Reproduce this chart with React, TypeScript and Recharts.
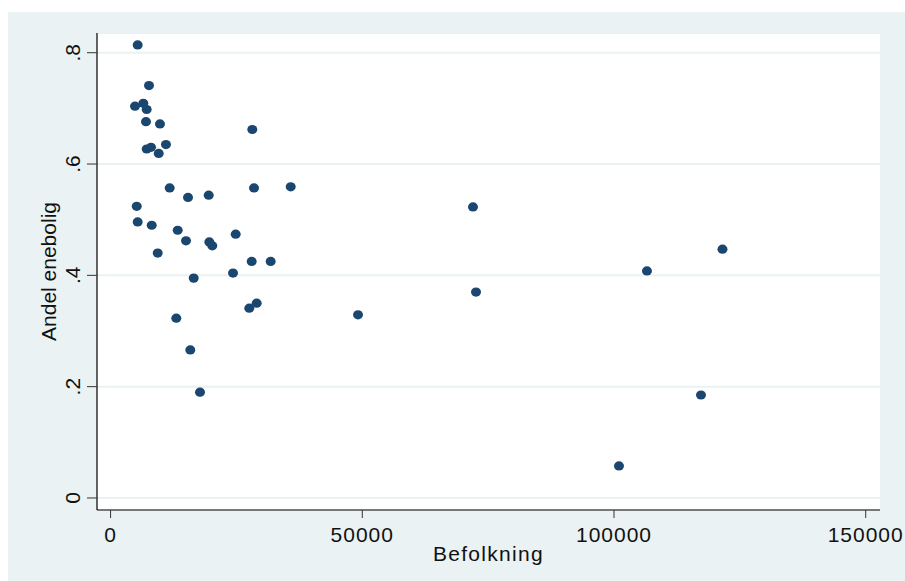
import React from 'react'
import {
  ScatterChart,
  Scatter,
  XAxis,
  YAxis,
  CartesianGrid,
} from 'recharts'

// Befolkning (x) and andel enebolig (y), one entry per kommune
const befolkning = [
  5380, 7630, 4850, 6500, 7170, 7030, 9810, 11000, 7170, 8030, 9560, 28150,
  11740, 15380, 19490, 28490, 35780, 5190, 5380, 8170, 13330, 14980, 9360,
  19610, 20200, 24850, 16510, 24320, 28030, 31800, 27550, 29020, 13050, 15830,
  17760, 49150, 71990, 72590, 100990, 106550, 117280, 121550,
]
const andelEnebolig = [
  0.814, 0.741, 0.704, 0.709, 0.698, 0.676, 0.672, 0.635, 0.627, 0.63, 0.619,
  0.662, 0.557, 0.54, 0.544, 0.557, 0.559, 0.524, 0.496, 0.49, 0.481, 0.462,
  0.44, 0.46, 0.453, 0.474, 0.395, 0.404, 0.425, 0.425, 0.341, 0.35, 0.323,
  0.266, 0.19, 0.329, 0.523, 0.37, 0.0575, 0.408, 0.185, 0.447,
]
const xTicks = [0, 50000, 100000, 150000]
const yTicks = [0, 0.2, 0.4, 0.6, 0.8]

const data = befolkning.map((b, i) => ({ pop: b, share: andelEnebolig[i] }))

const FONT = '"Liberation Sans", Arial, Helvetica, sans-serif'
const BG = '#eaf2f3'
const NAVY = '#1a476f'

const fmtY = (v: number) => (v === 0 ? '0' : String(v).replace(/^0/, ''))

function XTick(p: any) {
  return (
    <text
      x={p.x}
      y={p.y}
      dy={22}
      textAnchor="middle"
      fontFamily={FONT}
      fontSize={21}
      letterSpacing={1}
      fill="#111"
    >
      {p.payload.value}
    </text>
  )
}

function YTick(p: any) {
  const x = p.x - 5
  return (
    <text
      x={x}
      y={p.y}
      textAnchor="middle"
      transform={`rotate(-90, ${x}, ${p.y})`}
      fontFamily={FONT}
      fontSize={21}
      fill="#111"
    >
      {fmtY(p.payload.value)}
    </text>
  )
}

function Dot(p: any) {
  return <ellipse cx={p.cx} cy={p.cy} rx={5} ry={4.6} fill={NAVY} />
}

export default function App() {
  return (
    <div
      style={{
        position: 'fixed',
        left: 8,
        top: 12,
        width: 897,
        height: 569,
        background: BG,
      }}
    >
      <ScatterChart
        width={897}
        height={569}
        margin={{ top: 21, right: 25, bottom: 0, left: 0 }}
      >
        <CartesianGrid
          vertical={false}
          fill="#fff"
          fillOpacity={1}
          stroke={BG}
          strokeWidth={2}
        />
        <XAxis
          type="number"
          dataKey="pop"
          domain={[-2700, 152840]}
          ticks={xTicks}
          interval={0}
          allowDataOverflow
          height={71}
          tickSize={8}
          axisLine={{ stroke: '#000', strokeWidth: 1.2 }}
          tickLine={{ stroke: '#333', strokeWidth: 1 }}
          tick={<XTick />}
          label={(lp: any) => {
            const vb = lp.viewBox || {}
            return (
              <text
                x={vb.x + vb.width / 2}
                y={vb.y + 51}
                textAnchor="middle"
                fontFamily={FONT}
                fontSize={21}
                letterSpacing={1.3}
                fill="#111"
              >
                Befolkning
              </text>
            )
          }}
        />
        <YAxis
          type="number"
          dataKey="share"
          domain={[-0.0216, 0.8354]}
          ticks={yTicks}
          interval={0}
          allowDataOverflow
          width={89}
          tickSize={10}
          axisLine={{ stroke: '#000', strokeWidth: 1.2 }}
          tickLine={{ stroke: '#333', strokeWidth: 1 }}
          tick={<YTick />}
          label={(lp: any) => {
            const vb = lp.viewBox || {}
            const cx = 48
            const cy = vb.y + vb.height / 2
            return (
              <text
                x={cx}
                y={cy}
                textAnchor="middle"
                transform={`rotate(-90, ${cx}, ${cy})`}
                fontFamily={FONT}
                fontSize={21}
                fill="#111"
              >
                Andel enebolig
              </text>
            )
          }}
        />
        <Scatter data={data} fill={NAVY} shape={<Dot />} isAnimationActive={false} />
      </ScatterChart>
    </div>
  )
}
